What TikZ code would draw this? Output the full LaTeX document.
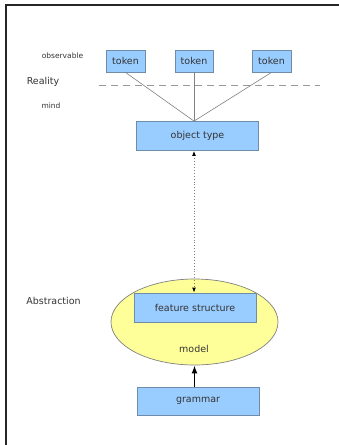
\documentclass[tikz,border=0pt]{standalone}
\usepackage{fontspec}
\setmainfont{DejaVu Sans}
\usetikzlibrary{arrows.meta,shapes.geometric,calc}
\definecolor{boxblue}{HTML}{99CCFF}
\definecolor{boxedge}{HTML}{6F8CA8}
\definecolor{modelyellow}{HTML}{FFFF99}
\definecolor{txtgray}{HTML}{333333}
\tikzset{
  box/.style={draw=boxedge, fill=boxblue, line width=0.8pt, inner sep=0pt,
    text=txtgray, font=\fontsize{9.5}{11}\selectfont},
  lbl/.style={text=txtgray, inner sep=0pt, font=\fontsize{9.5}{11}\selectfont},
  smalllbl/.style={text=txtgray, inner sep=0pt, font=\fontsize{7.5}{9}\selectfont}
}
\begin{document}
\begin{tikzpicture}[x=1pt, y=-1pt]
        \useasboundingbox (0,0) rectangle (339,445);
        % Frame
        \draw[line width=1.5pt, black!85] (6,445) -- (6,5) -- (339,5);
        % Tokens
        \node[box, minimum width=39pt, minimum height=22pt] (tok1) at (125.5,61) {token};
        \node[box, minimum width=38pt, minimum height=22pt] (tok2) at (194,61) {token};
        \node[box, minimum width=39pt, minimum height=22pt] (tok3) at (271.5,61) {token};
        % Side labels
        \node[smalllbl] (obs) at (62.5,55.7) {observable};
        \node[lbl] (real) at (43,82.3) {Reality};
        \node[smalllbl] (mind) at (51,105.7) {mind};
        \node[lbl] (abst) at (53.5,301) {Abstraction};
        % Reality line
        \coordinate (rl) at (99,85);
        \coordinate (rr) at (320,85);
        \draw[dashed, dash pattern=on 7pt off 5pt, gray!80, line width=0.8pt] (rl) -- (rr);
        % Object type
        \node[box, minimum width=122pt, minimum height=29pt] (obj) at (197.5,136) {object type};
        \coordinate (hub) at (obj.north -| tok2.south);
        \draw[gray, line width=0.6pt] (tok1.south) -- (hub);
        \draw[gray, line width=0.6pt] (tok2.south) -- (hub);
        \draw[gray, line width=0.6pt] (tok3.south) -- (hub);
        % Model
        \node[ellipse, draw=gray, fill=modelyellow, line width=0.7pt,
              minimum width=167pt, minimum height=86pt, inner sep=0pt] (model) at (194.5,322) {};
        \node[box, minimum width=122pt, minimum height=29pt] (fs) at (195,307.5) {feature structure};
        \node[lbl] (mtext) at (194,349) {model};
        % Grammar
        \node[box, minimum width=122pt, minimum height=28pt] (gram) at (198,401) {grammar};
        % Arrows
        \draw[{Latex[length=5pt,width=4pt,black]}-{Latex[length=5pt,width=4pt,black]}, gray, dotted, line width=0.9pt]
          (obj.south -| hub) -- (fs.north -| hub);
        \draw[-{Latex[length=8pt,width=6pt]}, line width=1.6pt] (gram.north -| model) -- (model.south);
\end{tikzpicture}
\end{document}
